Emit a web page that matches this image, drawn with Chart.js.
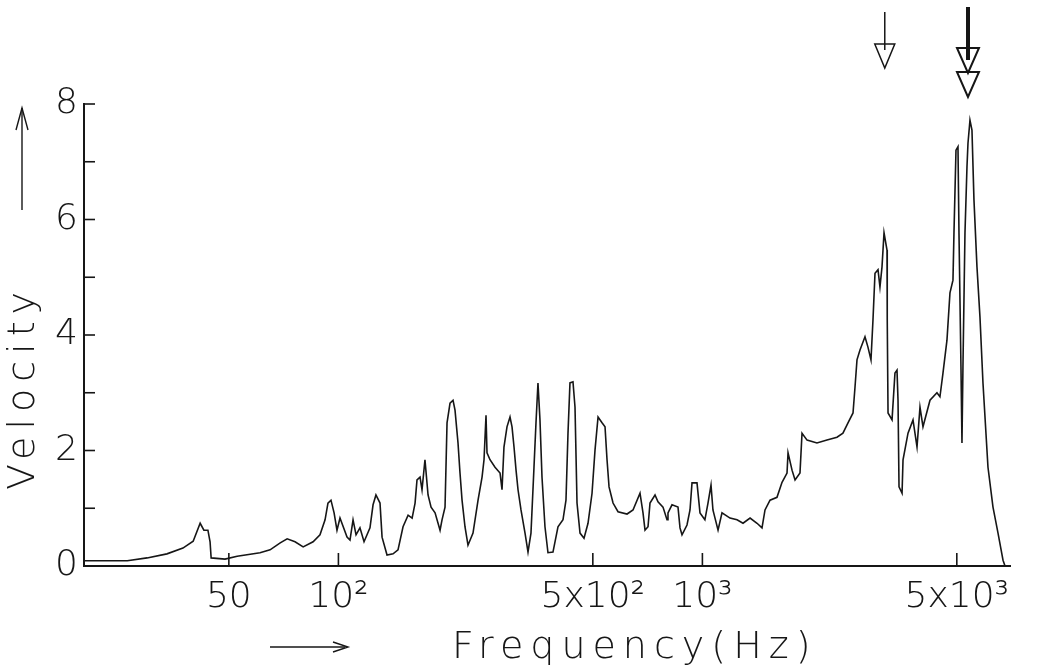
<!DOCTYPE html>
<html>
<head>
<meta charset="utf-8">
<script src="https://cdn.jsdelivr.net/npm/chart.js@4.4.1/dist/chart.umd.min.js"></script>
<style>
  html, body { margin: 0; padding: 0; background: #fff; }
  #wrap { width: 1038px; height: 666px; }
</style>
</head>
<body>
<div id="wrap"><canvas id="chart" width="1038" height="666"></canvas></div>
<script>
// Frecuencia (Hz) y velocidad
const freqHz = [
  20, 26.3, 29.8, 33.8, 37.4, 39.9, 41.7, 42.7, 43.8, 44.4, 44.7, 48.8, 52.7, 60.9, 64.9, 69.2, 72.3, 76.0, 80.0, 85.2,
  89.0, 91.9, 93.6, 95.4, 97.3, 99.1, 101.0, 105.6, 107.6, 109.7, 111.8, 114.6, 117.6, 122.1, 124.5, 126.8, 130.1, 131.8, 136.0, 141.3,
  145.8, 150.5, 155.4, 159.4, 162.4, 164.4, 167.6, 169.7, 172.9, 176.3, 179.7, 184.3, 190.2, 192.6, 196.3, 198.8, 202.6, 206.5, 209.1, 213.1,
  215.8, 218.6, 222.7, 227.0, 234.3, 241.9, 248.1, 251.2, 254.4, 256.0, 260.9, 269.3, 278.0, 281.5, 285.0, 290.5, 296.1, 299.9, 303.7, 307.6,
  311.5, 317.4, 325.6, 331.8, 338.1, 344.6, 349.0, 353.4, 357.9, 362.5, 369.4, 376.5, 388.6, 401.1, 414.0, 421.9, 427.3, 432.7, 441.0, 446.7,
  452.4, 461.1, 472.9, 485.0, 497.5, 507.0, 516.8, 530.0, 540.1, 547.0, 554.0, 568.2, 586.4, 620.8, 644.7, 673.9, 686.8, 695.6, 708.9, 717.9,
  741.0, 755.1, 779.4, 799.4, 804.4, 825.0, 857.0, 867.9, 879.0, 907.2, 924.6, 936.4, 966.4, 984.9, 1016, 1036, 1056, 1069, 1104, 1132,
  1191, 1245, 1293, 1352, 1413, 1458, 1486, 1534, 1603, 1655, 1708, 1719, 1763, 1797, 1854, 1878, 1939, 2064, 2199, 2343,
  2433, 2512, 2593, 2626, 2659, 2710, 2797, 2850, 2905, 2942, 2980, 3037, 3075, 3115, 3155, 3215, 3220, 3236, 3319, 3381,
  3425, 3447, 3469, 3536, 3558, 3672, 3790, 3887, 3961, 4037, 4220, 4410, 4494, 4581, 4698, 4788, 4880, 4911, 4974, 5037,
  5069, 5133, 5166, 5198, 5265, 5332, 5366, 5434, 5503, 5573, 5680, 5789, 5900, 6090, 6286, 6489, 6698, 6783
];
const velocity = [
  0.09, 0.09, 0.14, 0.21, 0.31, 0.43, 0.74, 0.62, 0.62, 0.42, 0.14, 0.12, 0.17, 0.23, 0.28, 0.40, 0.47, 0.42, 0.33, 0.42,
  0.54, 0.80, 1.09, 1.14, 0.92, 0.62, 0.83, 0.50, 0.45, 0.80, 0.54, 0.66, 0.42, 0.66, 1.06, 1.23, 1.09, 0.50, 0.19, 0.21,
  0.28, 0.68, 0.88, 0.83, 1.09, 1.49, 1.54, 1.32, 1.84, 1.23, 1.02, 0.92, 0.62, 0.80, 1.02, 2.48, 2.82, 2.87, 2.70, 2.13,
  1.61, 1.14, 0.68, 0.36, 0.57, 1.14, 1.54, 1.84, 2.61, 1.96, 1.84, 1.71, 1.61, 1.32, 2.06, 2.41, 2.58, 2.41, 2.06, 1.66,
  1.32, 0.97, 0.57, 0.24, 0.57, 1.71, 2.48, 3.17, 2.53, 1.54, 0.68, 0.23, 0.24, 0.68, 0.80, 1.14, 2.30, 3.17, 3.19, 2.75,
  1.09, 0.57, 0.48, 0.74, 1.26, 2.01, 2.58, 2.48, 2.41, 1.84, 1.37, 1.09, 0.94, 0.90, 0.97, 1.26, 0.92, 0.62, 0.68, 1.09,
  1.23, 1.11, 1.02, 0.80, 0.92, 1.06, 1.02, 0.66, 0.54, 0.71, 0.97, 1.44, 1.44, 0.92, 0.80, 1.09, 1.40, 0.97, 0.62, 0.92,
  0.83, 0.80, 0.74, 0.83, 0.74, 0.66, 0.97, 1.14, 1.19, 1.45, 1.61, 1.96, 1.66, 1.49, 1.61, 2.30, 2.18, 2.13, 2.18, 2.23,
  2.30, 2.48, 2.65, 3.10, 3.57, 3.74, 3.97, 3.79, 3.57, 4.26, 5.07, 5.13, 4.83, 5.18, 5.77, 5.47, 4.26, 2.65, 2.53, 3.34,
  3.39, 2.87, 1.37, 1.26, 1.84, 2.30, 2.53, 2.06, 2.75, 2.41, 2.87, 3.00, 2.93, 3.34, 3.91, 4.73, 4.95, 5.77, 7.20, 7.26,
  5.77, 3.45, 2.13, 3.45, 5.77, 6.91, 7.32, 7.72, 7.55, 6.34, 5.18, 4.31, 3.17, 1.71, 1.02, 0.57, 0.10, 0.00
];

// Marcas y etiquetas de los ejes
const xTickValues = [50, 100, 500, 1000, 5000];
const xTickLabels = ['50', '10²', '5x10²', '10³', '5x10³'];
const yTickValues = [0, 1, 2, 3, 4, 5, 6, 7, 8];
const yTickLabels = ['0', '', '2', '', '4', '', '6', '', '8'];
// Flechas que señalan los picos
const arrowFreqs = [3170, 5366];

const ink = '#161616';
const labelFont = { family: '"DejaVu Sans", sans-serif', size: 36, weight: '200' };

const points = freqHz.map((f, i) => ({ x: f, y: velocity[i] }));

// Dibuja marcas hacia dentro, flechas y títulos espaciados
const decor = {
  id: 'decor',
  afterDraw(chart) {
    const ctx = chart.ctx;
    const xs = chart.scales.x;
    const ys = chart.scales.y;
    const area = chart.chartArea;
    ctx.save();
    ctx.strokeStyle = ink;
    ctx.fillStyle = ink;
    ctx.lineWidth = 1.6;

    // marcas del eje y
    yTickValues.forEach(v => {
      const y = ys.getPixelForValue(v);
      ctx.beginPath();
      ctx.moveTo(area.left, y);
      ctx.lineTo(area.left + 11, y);
      ctx.stroke();
    });
    // marcas del eje x
    xTickValues.forEach(v => {
      const x = xs.getPixelForValue(v);
      ctx.beginPath();
      ctx.moveTo(x, area.bottom);
      ctx.lineTo(x, area.bottom - 13);
      ctx.stroke();
    });

    // flecha pequeña
    let x = xs.getPixelForValue(arrowFreqs[0]);
    ctx.lineWidth = 1.5;
    ctx.beginPath();
    ctx.moveTo(x, 12);
    ctx.lineTo(x, 50);
    ctx.stroke();
    ctx.beginPath();
    ctx.moveTo(x - 10, 44);
    ctx.lineTo(x + 10, 44);
    ctx.lineTo(x, 68);
    ctx.closePath();
    ctx.stroke();

    // flecha doble
    x = xs.getPixelForValue(arrowFreqs[1]);
    ctx.lineWidth = 4;
    ctx.beginPath();
    ctx.moveTo(x, 7);
    ctx.lineTo(x, 60);
    ctx.stroke();
    ctx.lineWidth = 2;
    [[48, 73], [72, 97]].forEach(([top, tip]) => {
      ctx.beginPath();
      ctx.moveTo(x - 11, top);
      ctx.lineTo(x + 11, top);
      ctx.lineTo(x, tip);
      ctx.closePath();
      ctx.stroke();
    });

    // flecha del título x
    ctx.lineWidth = 1.4;
    ctx.beginPath();
    ctx.moveTo(270, 647);
    ctx.lineTo(345, 647);
    ctx.stroke();
    ctx.beginPath();
    ctx.moveTo(333, 642);
    ctx.lineTo(348, 647);
    ctx.lineTo(333, 652);
    ctx.stroke();

    // flecha del título y
    ctx.beginPath();
    ctx.moveTo(22, 210);
    ctx.lineTo(22, 108);
    ctx.stroke();
    ctx.beginPath();
    ctx.moveTo(16, 130);
    ctx.lineTo(22, 108);
    ctx.lineTo(28, 130);
    ctx.stroke();

    // títulos
    ctx.font = '200 38px "DejaVu Sans", sans-serif';
    ctx.letterSpacing = '7px';
    ctx.textAlign = 'left';
    ctx.textBaseline = 'alphabetic';
    ctx.fillText('Frequency(Hz)', 452, 658);
    ctx.translate(34, 490);
    ctx.rotate(-Math.PI / 2);
    ctx.fillText('Velocity', 0, 0);
    ctx.restore();
  }
};

new Chart(document.getElementById('chart'), {
  type: 'line',
  data: {
    datasets: [{
      data: points,
      borderColor: ink,
      borderWidth: 1.6,
      pointRadius: 0,
      tension: 0,
      fill: false
    }]
  },
  options: {
    responsive: false,
    animation: false,
    layout: { padding: { top: 104, right: 28, left: 0, bottom: 0 } },
    plugins: {
      legend: { display: false },
      tooltip: { enabled: false }
    },
    scales: {
      x: {
        type: 'logarithmic',
        min: 20,
        max: 7000,
        grid: { display: false, drawTicks: false },
        border: { display: true, color: ink, width: 2 },
        afterBuildTicks: s => { s.ticks = xTickValues.map(v => ({ value: v })); },
        afterFit: s => { s.height = 100; },
        ticks: {
          autoSkip: false,
          maxRotation: 0,
          padding: 10,
          color: ink,
          font: labelFont,
          callback: v => {
            const i = xTickValues.indexOf(v);
            return i >= 0 ? xTickLabels[i] : '';
          }
        }
      },
      y: {
        min: 0,
        max: 8,
        grid: { display: false, drawTicks: false },
        border: { display: true, color: ink, width: 2 },
        afterBuildTicks: s => { s.ticks = yTickValues.map(v => ({ value: v })); },
        afterFit: s => { s.width = 84; },
        ticks: {
          autoSkip: false,
          padding: 6,
          color: ink,
          font: labelFont,
          callback: v => {
            const i = yTickValues.indexOf(v);
            return i >= 0 ? yTickLabels[i] : '';
          }
        }
      }
    }
  },
  plugins: [decor]
});
</script>
</body>
</html>
